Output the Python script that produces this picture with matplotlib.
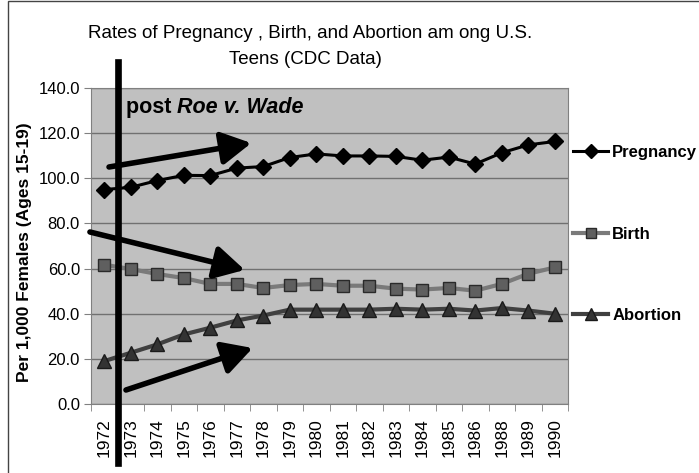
import numpy as np
import matplotlib
matplotlib.use('Agg')
import matplotlib.pyplot as plt
from matplotlib.patches import Rectangle

plt.rcParams['font.family'] = ['Liberation Sans', 'DejaVu Sans']

years = ['1972', '1973', '1974', '1975', '1976', '1977', '1978', '1979', '1980', '1981',
         '1982', '1983', '1984', '1985', '1986', '1988', '1989', '1990']
pregnancy = [95.0, 96.0, 99.0, 101.3, 101.2, 104.5, 105.2, 109.2, 110.8, 109.9,
             109.9, 109.7, 108.0, 109.4, 106.3, 111.3, 114.8, 116.3]
birth = [61.7, 59.8, 57.6, 55.8, 53.2, 53.2, 51.4, 52.7, 53.2, 52.4,
         52.4, 51.1, 50.7, 51.4, 50.2, 53.2, 57.7, 60.5]
abortion = [19.0, 22.7, 26.4, 30.8, 33.8, 37.0, 39.2, 41.8, 41.8, 41.8,
            41.8, 42.2, 41.8, 42.2, 41.4, 42.5, 41.4, 40.0]

fig = plt.figure(figsize=(6.99, 4.73), dpi=100)
ax = fig.add_axes([91 / 699, 69 / 473, 477 / 699, 316 / 473])
ax.set_facecolor('#c0c0c0')

x = np.arange(len(years))
ax.plot(x, pregnancy, color='black', lw=2.2, marker='D', ms=8,
        mfc='black', mec='black', label='Pregnancy', zorder=5)
ax.plot(x, birth, color='#7a7a7a', lw=3, marker='s', ms=8.5,
        mfc='#5f5f5f', mec='#2a2a2a', mew=1, label='Birth', zorder=4)
ax.plot(x, abortion, color='#404040', lw=3, marker='^', ms=10,
        mfc='#333333', mec='#1a1a1a', mew=1, label='Abortion', zorder=4)

ax.set_xlim(-0.5, len(years) - 0.5)
ax.set_ylim(0, 140)
ax.set_yticks(np.arange(0, 141, 20))
ax.set_yticklabels(['%.1f' % v for v in np.arange(0, 141, 20)], fontsize=12)
ax.yaxis.grid(True, color='#707070', lw=1)
ax.set_axisbelow(True)
ax.tick_params(axis='y', length=5, color='#808080', pad=3)

ax.set_xticks(x)
ax.set_xticklabels(years, rotation=90, fontsize=12.5)
ax.set_xticks(np.arange(-0.5, len(years)), minor=True)
ax.tick_params(axis='x', which='major', length=0, pad=10)
ax.tick_params(axis='x', which='minor', length=5, color='#808080')
for s in ax.spines.values():
    s.set_color('#808080')

ax.set_ylabel('Per 1,000 Females (Ages 15-19)', fontsize=12.5, fontweight='bold')
ax.yaxis.set_label_coords(-0.124, 0.48)

fig.text(310 / 699, 1 - 34 / 473, 'Rates of Pregnancy , Birth, and Abortion am ong U.S.',
         ha='center', va='center', fontsize=13.5)
fig.text(305 / 699, 1 - 60 / 473, 'Teens (CDC Data)', ha='center', va='center', fontsize=13.5)

# Roe v. Wade marker line
ax.axvline(0.5, ymin=-0.187, ymax=1.082, color='black', lw=4.8, clip_on=False, zorder=6)
t1 = ax.text(0.073, 0.937, 'post ', transform=ax.transAxes, fontsize=15.5,
             fontweight='bold', va='center')
fig.canvas.draw()
bb = t1.get_window_extent().transformed(ax.transAxes.inverted())
ax.text(bb.x1, 0.937, 'Roe v. Wade', transform=ax.transAxes, fontsize=15.5,
        fontweight='bold', style='italic', va='center')

arrow = dict(arrowstyle='-|>,head_length=1.0,head_width=0.55', lw=4, color='black',
             mutation_scale=18, shrinkA=0, shrinkB=0)
ax.annotate('', xy=(5.55, 115.6), xytext=(0.18, 105.0), arrowprops=arrow, zorder=7)
ax.annotate('', xy=(5.3, 59.4), xytext=(-0.54, 76.2), arrowprops=arrow,
            annotation_clip=False, zorder=7)
ax.annotate('', xy=(5.6, 24.8), xytext=(0.82, 6.2), arrowprops=arrow, zorder=7)

leg = ax.legend(loc='center left', bbox_to_anchor=(573 / 699, 1 - 234 / 473),
                bbox_transform=fig.transFigure, frameon=False,
                prop={'weight': 'bold', 'size': 12}, handlelength=2.1,
                handletextpad=0.25, labelspacing=4.0, borderpad=0,
                borderaxespad=0, markerscale=0.85)

fig.add_artist(Rectangle((8 / 699, -0.05), 1.0, 1.05 - 1.5 / 473, transform=fig.transFigure,
                         fill=False, edgecolor='#444444', lw=1))

fig.savefig('out.png', dpi=100)
